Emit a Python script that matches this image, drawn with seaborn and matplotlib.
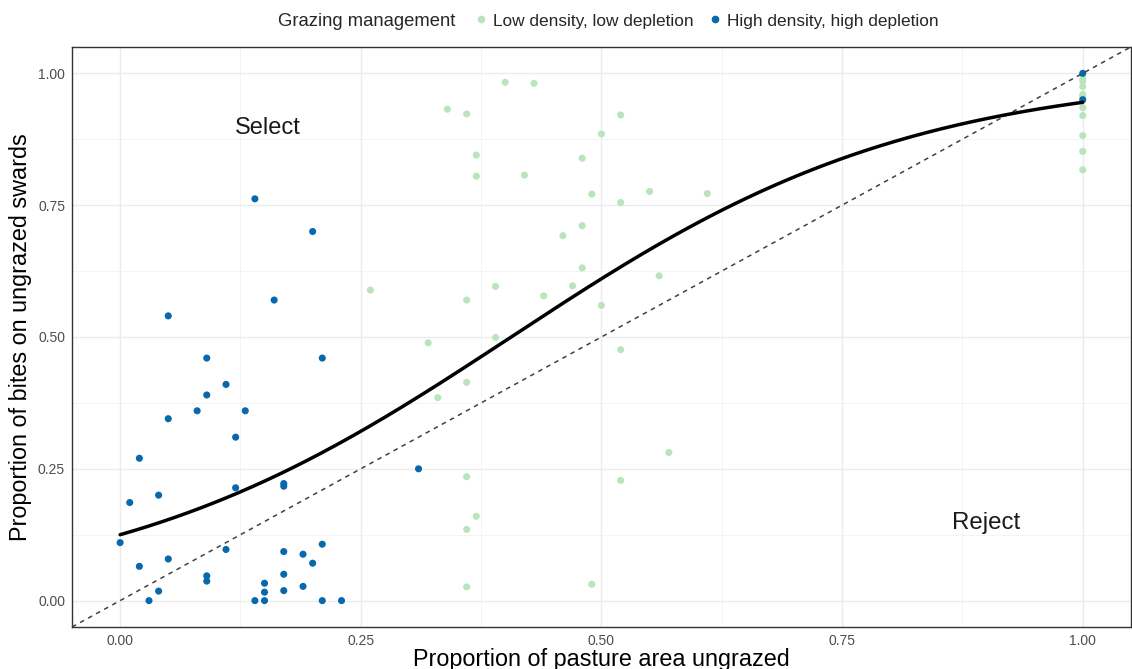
import numpy as np
import pandas as pd
import seaborn as sns
import matplotlib.pyplot as plt
from matplotlib.lines import Line2D
from matplotlib.ticker import MultipleLocator

# ---------------- data ----------------
blue_x = [0.05, 0.16, 0.21, 0.09, 0.11, 0.09, 0.13, 0.08, 0.05, 0.12, 0.02, 0.17, 0.17, 0.04,
          0.12, 0.01, 0.00, 0.11, 0.21, 0.17, 0.19, 0.20, 0.02, 0.05, 0.09, 0.09, 0.17, 0.15,
          0.15, 0.19, 0.17, 0.04, 0.03, 0.14, 0.15, 0.21, 0.23, 0.14, 0.20, 0.31, 1.00, 1.00]
blue_y = [0.54, 0.57, 0.46, 0.46, 0.41, 0.39, 0.36, 0.36, 0.345, 0.31, 0.27, 0.222, 0.217, 0.20,
          0.214, 0.186, 0.11, 0.097, 0.107, 0.093, 0.088, 0.071, 0.065, 0.079, 0.047, 0.037, 0.05, 0.033,
          0.016, 0.027, 0.019, 0.018, 0.0, 0.0, 0.0, 0.0, 0.0, 0.762, 0.70, 0.25, 1.00, 0.95]

green_x = [0.40, 0.43, 0.34, 0.36, 0.52, 0.50, 0.37, 0.48, 0.37, 0.42, 0.49, 0.52, 0.55, 0.61,
           0.48, 0.46, 0.48, 0.47, 0.39, 0.26, 0.56, 0.36, 0.44, 0.50, 0.32, 0.39, 0.52, 0.36,
           0.33, 0.57, 0.36, 0.52, 0.37, 0.36, 0.36, 0.49,
           1.00, 1.00, 1.00, 1.00, 1.00, 1.00, 1.00, 1.00, 1.00, 1.00]
green_y = [0.983, 0.981, 0.932, 0.923, 0.921, 0.885, 0.845, 0.839, 0.805, 0.807, 0.771, 0.755, 0.776, 0.772,
           0.711, 0.692, 0.631, 0.597, 0.596, 0.589, 0.616, 0.570, 0.578, 0.560, 0.489, 0.499, 0.476, 0.414,
           0.385, 0.281, 0.235, 0.228, 0.160, 0.135, 0.026, 0.031,
           0.99, 0.985, 0.975, 0.96, 0.955, 0.935, 0.92, 0.882, 0.852, 0.817]

groups = ["Low density, low depletion", "High density, high depletion"]
colors = ["#bae4bc", "#0868ac"]

# logistic fit (logit scale)
fit_intercept = -1.946
fit_slope = 4.79

tick_vals = [0.0, 0.25, 0.5, 0.75, 1.0]
tick_labels = ["0.00", "0.25", "0.50", "0.75", "1.00"]

# ---------------- figure ----------------
sns.set_theme(style="whitegrid")
plt.rcParams['font.family'] = ['Liberation Sans', 'DejaVu Sans']

df = pd.DataFrame({
    "x": green_x + blue_x,
    "y": green_y + blue_y,
    "group": [groups[0]] * len(green_x) + [groups[1]] * len(blue_x),
})

fig = plt.figure(figsize=(11.32, 6.69), dpi=100)
ax = fig.add_axes([0.0636, 0.0628, 0.9354, 0.867])
ax.set_facecolor("white")

sns.scatterplot(data=df, x="x", y="y", hue="group", hue_order=groups,
                palette=dict(zip(groups, colors)), s=26, linewidth=0,
                ax=ax, legend=False, zorder=3)

xs = np.linspace(0, 1, 300)
ys = 1.0 / (1.0 + np.exp(-(fit_intercept + fit_slope * xs)))
sns.lineplot(x=xs, y=ys, color="black", lw=2.5, ax=ax, zorder=5)

ax.axline((0, 0), (1, 1), ls=(0, (3, 3)), color="#404040", lw=1.1, zorder=4)

ax.set_xlim(-0.05, 1.05)
ax.set_ylim(-0.05, 1.05)
ax.set_xticks(tick_vals)
ax.set_xticklabels(tick_labels)
ax.set_yticks(tick_vals)
ax.set_yticklabels(tick_labels)
ax.xaxis.set_minor_locator(MultipleLocator(0.125))
ax.yaxis.set_minor_locator(MultipleLocator(0.125))
ax.grid(which="major", color="#ebebeb", lw=1.0)
ax.grid(which="minor", color="#f2f2f2", lw=0.6)
ax.set_axisbelow(True)
for sp in ax.spines.values():
    sp.set_visible(True)
    sp.set_color("#333333")
    sp.set_linewidth(1.0)
ax.tick_params(which="major", direction="out", length=3, width=0.8, color="#333333",
               labelsize=10, labelcolor="#4d4d4d", pad=2)
ax.tick_params(which="minor", length=0)

ax.set_xlabel("Proportion of pasture area ungrazed", fontsize=16.8, color="black", labelpad=0)
ax.set_ylabel("Proportion of bites on ungrazed swards", fontsize=16.8, color="black", labelpad=4)

ax.text(0.153, 0.897, "Select", fontsize=17, ha="center", va="center", color="#1a1a1a")
ax.text(0.90, 0.148, "Reject", fontsize=17.3, ha="center", va="center", color="#1a1a1a")

# legend at top
fig.text(455 / 1132, 1 - 21 / 669, "Grazing management", ha="right", va="center", fontsize=13.3)
handles = [Line2D([], [], marker="o", ls="", color=c, markersize=4.5) for c in colors]
fig.legend(handles, groups, loc="center left", bbox_to_anchor=(464 / 1132, 1 - 21 / 669),
           ncol=2, frameon=False, fontsize=12.4, handletextpad=0.1, columnspacing=0.6,
           handlelength=1.2, borderaxespad=0)

fig.savefig("out.png", dpi=100, facecolor="white")
